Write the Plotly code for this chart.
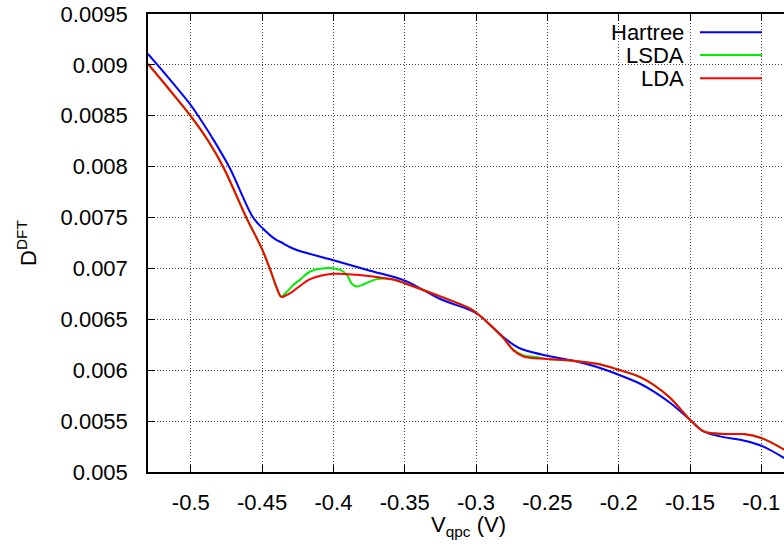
import plotly.graph_objects as go

# ---- data ----
x_hartree = [-0.53, -0.5159, -0.5, -0.4944, -0.485, -0.4726, -0.4563, -0.4493, -0.4411, -0.435, -0.4303,
             -0.4247, -0.4, -0.375, -0.35, -0.3251, -0.3041, -0.2977, -0.2901, -0.2808, -0.2737,
             -0.2667, -0.25, -0.2317, -0.2152, -0.2, -0.1849, -0.1756, -0.1638, -0.15, -0.1405,
             -0.1288, -0.1125, -0.1, -0.0839]
y_hartree = [0.009107, 0.008877, 0.008605, 0.00849, 0.008285, 0.007985, 0.0075, 0.00739, 0.00729, 0.007245, 0.007208,
             0.007176, 0.00708, 0.00698, 0.00688, 0.0067, 0.00659, 0.00654, 0.006445, 0.006326, 0.00625,
             0.006201, 0.006142, 0.006093, 0.006031, 0.005955, 0.005867, 0.005792, 0.005678, 0.005514, 0.005399,
             0.00535, 0.00531, 0.005258, 0.005137]

x_lda = [-0.53, -0.5159, -0.4996, -0.488, -0.4773, -0.461, -0.45, -0.4444, -0.4397, -0.4365, -0.4333,
         -0.4303, -0.4233, -0.4163, -0.4, -0.3836, -0.3696, -0.3555, -0.35, -0.3251, -0.3041,
         -0.2977, -0.2901, -0.2808, -0.2737, -0.2667, -0.25, -0.2317, -0.2152, -0.2, -0.1849,
         -0.1756, -0.1638, -0.15, -0.1405, -0.1288, -0.1195, -0.1125, -0.1, -0.0839]
y_lda = [0.009009, 0.008773, 0.00849, 0.00826, 0.008, 0.0075, 0.00719, 0.00699, 0.00681, 0.00672, 0.006735,
         0.006757, 0.00683, 0.006895, 0.006947, 0.006937, 0.006915, 0.006882, 0.006855, 0.006725, 0.006605,
         0.00654, 0.006445, 0.006316, 0.006194, 0.006135, 0.00611, 0.006093, 0.006063, 0.006004, 0.005933,
         0.005857, 0.005727, 0.005514, 0.0054, 0.005376, 0.005373, 0.005373, 0.005334, 0.005219]

x_lsda = [-0.53, -0.5159, -0.4996, -0.488, -0.4773, -0.461, -0.45, -0.4444, -0.4397, -0.4368, -0.4333,
          -0.428, -0.4233, -0.4163, -0.4058, -0.3953, -0.3906, -0.3871, -0.3836, -0.3778, -0.3696,
          -0.3602, -0.3555, -0.35, -0.3251, -0.3041, -0.2977, -0.2901, -0.2808, -0.2737, -0.2667,
          -0.258, -0.25, -0.2317, -0.2152, -0.2, -0.1849, -0.1756, -0.1638, -0.15, -0.1405,
          -0.1288, -0.1195, -0.1125, -0.1, -0.0839]
y_lsda = [0.009009, 0.00877, 0.008487, 0.008255, 0.007995, 0.007495, 0.007185, 0.00699, 0.006805, 0.006724, 0.00676,
          0.006839, 0.00689, 0.00697, 0.007003, 0.006986, 0.006937, 0.00685, 0.006823, 0.00685, 0.006895,
          0.006898, 0.006882, 0.006855, 0.006725, 0.006605, 0.00654, 0.006445, 0.006316, 0.0062, 0.006145,
          0.00613, 0.00611, 0.006093, 0.006063, 0.006004, 0.005933, 0.005857, 0.005727, 0.005514, 0.0054,
          0.005376, 0.005373, 0.005373, 0.005334, 0.005219]

x_tickvals = [-0.5, -0.45, -0.4, -0.35, -0.3, -0.25, -0.2, -0.15, -0.1]
x_ticktext = ["-0.5", "-0.45", "-0.4", "-0.35", "-0.3", "-0.25", "-0.2", "-0.15", "-0.1"]
y_tickvals = [0.005, 0.0055, 0.006, 0.0065, 0.007, 0.0075, 0.008, 0.0085, 0.009, 0.0095]
y_ticktext = ["0.005", "0.0055", "0.006", "0.0065", "0.007", "0.0075", "0.008", "0.0085", "0.009", "0.0095"]

series = [("Hartree", x_hartree, y_hartree, "#0000ff"),
          ("LSDA", x_lsda, y_lsda, "#00ee00"),
          ("LDA", x_lda, y_lda, "#ff0000")]

FONT = "Liberation Sans, Arial, sans-serif"
FS = 22

fig = go.Figure()
for name, xs, ys, col in series:
    fig.add_trace(go.Scatter(x=xs, y=ys, mode="lines", name=name,
                             line=dict(color=col, width=2, shape="spline", smoothing=1.0),
                             showlegend=False))

# gnuplot-style key: text right-aligned, sample line to the right
key_rows = [32.3, 55.0, 78.3]
W, H = 784, 549
L, R, T, B = 148, 0, 14, 77
pw, ph = W - L - R, H - T - B
def px2paper_x(px):
    return (px - L) / pw
def px2paper_y(py):
    return 1 - (py - T) / ph

for (name, xs, ys, col), ry in zip(series, key_rows):
    fig.add_annotation(x=px2paper_x(686), y=px2paper_y(ry), xref="paper", yref="paper",
                       text=name, showarrow=False, xanchor="right", yanchor="middle",
                       font=dict(family=FONT, size=FS, color="black"))
    fig.add_shape(type="line", xref="paper", yref="paper",
                  x0=px2paper_x(700), x1=px2paper_x(762), y0=px2paper_y(ry), y1=px2paper_y(ry),
                  line=dict(color=col, width=2))

# axis titles
fig.add_annotation(x=px2paper_x(468), y=px2paper_y(526), xref="paper", yref="paper",
                   text="V<sub>qpc</sub> (V)", showarrow=False, xanchor="center", yanchor="middle",
                   font=dict(family=FONT, size=FS, color="black"))
fig.add_annotation(x=px2paper_x(27), y=px2paper_y(243), xref="paper", yref="paper",
                   text="D<sup>DFT</sup>", showarrow=False, xanchor="center", yanchor="middle",
                   textangle=-90, font=dict(family=FONT, size=FS, color="black"))

fig.update_layout(
    width=W, height=H,
    margin=dict(l=L, r=R, t=T, b=B, pad=0, autoexpand=False),
    paper_bgcolor="white", plot_bgcolor="white",
    font=dict(family=FONT, size=FS, color="black"),
    showlegend=False,
)
fig.update_xaxes(range=[-0.53, -0.0841], tickvals=x_tickvals, ticktext=x_ticktext,
                 automargin=False,
                 showgrid=True, gridcolor="#444", griddash="1px,2px", gridwidth=1,
                 zeroline=False, showline=True, linecolor="black", linewidth=1.5,
                 mirror="ticks", ticks="inside", ticklen=7, tickcolor="black", tickwidth=1,
                 ticklabelstandoff=10, tickfont=dict(family=FONT, size=FS))
fig.update_yaxes(range=[0.005, 0.0095], tickvals=y_tickvals, ticktext=y_ticktext,
                 automargin=False,
                 showgrid=True, gridcolor="#444", griddash="1px,2px", gridwidth=1,
                 zeroline=False, showline=True, linecolor="black", linewidth=1.5,
                 mirror=False, ticks="inside", ticklen=7, tickcolor="black", tickwidth=1,
                 ticklabelstandoff=14, tickfont=dict(family=FONT, size=FS))

fig.write_html("out.html", config={"displayModeBar": False},
               post_script="document.body.style.margin='0px';document.body.style.overflow='hidden';")
